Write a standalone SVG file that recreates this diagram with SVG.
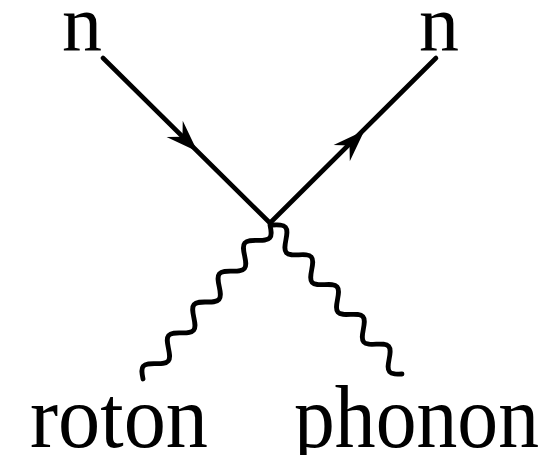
<svg xmlns="http://www.w3.org/2000/svg" width="559" height="455" viewBox="0 0 559 455">
<style>
.lbl{font-family:"Liberation Serif","Times New Roman",serif;fill:#000}
.ln{stroke:#000;stroke-width:4.6;fill:none;stroke-linecap:round}
.wv{stroke:#000;stroke-width:4.8;fill:none;stroke-linecap:round}
</style>
<defs>
<path id="ah" d="M2,0 L-30,11.5 L-19,0 L-30,-11.5 Z" fill="#000"/>
<path id="wave" d="M0,0 c3.261,-4.098 6.381,-8 10,-8 s6.739,3.902 10,8 s6.381,8 10,8 s6.739,-3.902 10,-8 s6.381,-8 10,-8 s6.739,3.902 10,8 s6.381,8 10,8 s6.739,-3.902 10,-8 s6.381,-8 10,-8 s6.739,3.902 10,8 s6.381,8 10,8 s6.739,-3.902 10,-8 s6.381,-8 10,-8 s6.739,3.902 10,8 s6.381,8 10,8 s6.739,-3.902 10,-8 s6.381,-8 10,-8 s6.739,3.902 10,8 s6.381,8 10,8 s6.739,-3.902 10,-8"/>
</defs>
<g id="connectors">
<line class="ln" x1="103" y1="58" x2="270" y2="223"/>
<use href="#ah" transform="translate(196,150) rotate(44.66)"/>
<line class="ln" x1="270" y1="223" x2="436" y2="58"/>
<use href="#ah" transform="translate(363,132) rotate(-44.8)"/>
<use href="#wave" class="wv" transform="translate(273,225) rotate(49.11) scale(0.9855,1)"/>
<use href="#wave" class="wv" transform="translate(270,225) rotate(129.5) scale(0.998,1)"/>
</g>
<g id="n-in"><text class="lbl" x="62" y="50" font-size="80">n</text></g>
<g id="n-out"><text class="lbl" x="419" y="50" font-size="80">n</text></g>
<g id="roton"><text class="lbl" x="30" y="447" font-size="88" textLength="178" lengthAdjust="spacingAndGlyphs">roton</text></g>
<g id="phonon"><text class="lbl" x="294" y="447" font-size="88" textLength="245" lengthAdjust="spacingAndGlyphs">phonon</text></g>
</svg>
